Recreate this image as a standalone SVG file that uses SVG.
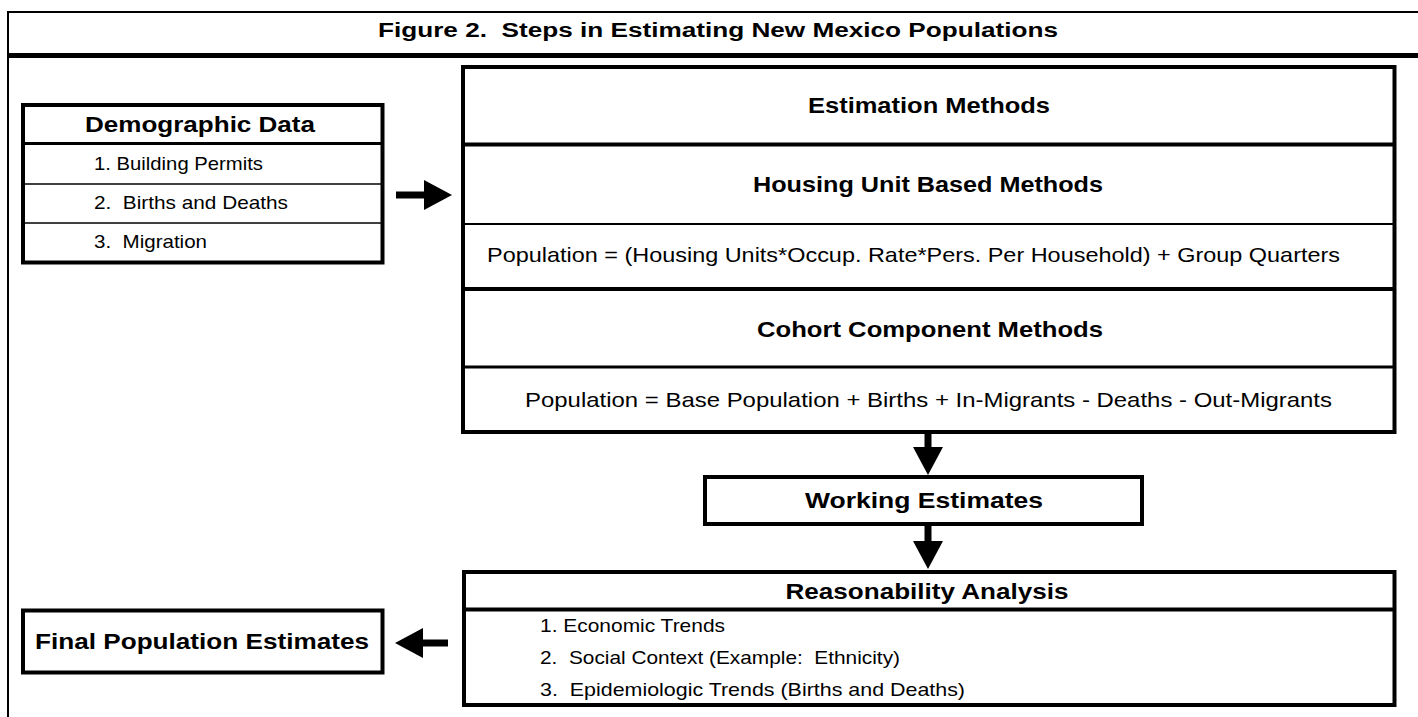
<svg xmlns="http://www.w3.org/2000/svg" width="1418" height="717" viewBox="0 0 1418 717">
<style>
text{font-family:"Liberation Sans",Arial,sans-serif;fill:#000;white-space:pre}
.b{font-weight:bold;font-size:22px}
.t{font-weight:bold;font-size:20px}
.r{font-size:21px}
.s{font-size:19px}
.m{text-anchor:middle}
.box{fill:#fff;stroke:#000;stroke-width:4}
.d4{stroke:#000;stroke-width:4}
.d3{stroke:#000;stroke-width:3}
.d2{stroke:#000;stroke-width:2}
.d1{stroke:#000;stroke-width:1.5}
.sh{stroke:#000;stroke-width:7;fill:none}
</style>
<defs>
<marker id="ah" viewBox="0 0 28 30" markerWidth="28" markerHeight="30" refX="0" refY="15" orient="auto" markerUnits="userSpaceOnUse">
<path d="M0,0 L28,15 L0,30 Z" fill="#000"/>
</marker>
</defs>
<rect width="1418" height="717" fill="#fff"/>
<g id="frame">
<line x1="8" y1="12" x2="1418" y2="12" class="d2"/>
<line x1="8" y1="11" x2="8" y2="717" class="d2"/>
<line x1="7" y1="55.5" x2="1418" y2="55.5" stroke="#000" stroke-width="5"/>
<text x="378" y="37" class="t" textLength="680" lengthAdjust="spacingAndGlyphs">Figure 2.  Steps in Estimating New Mexico Populations</text>
</g>
<g id="demographic-data">
<rect x="23" y="105" width="359.5" height="157.5" class="box"/>
<line x1="23" y1="143.5" x2="382.5" y2="143.5" class="d3"/>
<line x1="23" y1="184" x2="382.5" y2="184" class="d1"/>
<line x1="23" y1="223" x2="382.5" y2="223" class="d1"/>
<text x="200" y="132" class="b m" textLength="230" lengthAdjust="spacingAndGlyphs">Demographic Data</text>
<text x="94" y="170" class="s" textLength="169" lengthAdjust="spacingAndGlyphs">1. Building Permits</text>
<text x="94" y="209" class="s" textLength="194" lengthAdjust="spacingAndGlyphs">2.  Births and Deaths</text>
<text x="94" y="248" class="s" textLength="113" lengthAdjust="spacingAndGlyphs">3.  Migration</text>
</g>
<g id="estimation-methods">
<rect x="463" y="67" width="931.5" height="365" class="box"/>
<line x1="463" y1="144.5" x2="1394.5" y2="144.5" class="d4"/>
<line x1="463" y1="224" x2="1394.5" y2="224" class="d2"/>
<line x1="463" y1="289" x2="1394.5" y2="289" class="d4"/>
<line x1="463" y1="367" x2="1394.5" y2="367" class="d3"/>
<text x="929" y="113" class="b m" textLength="242" lengthAdjust="spacingAndGlyphs">Estimation Methods</text>
<text x="928" y="192" class="b m" textLength="350" lengthAdjust="spacingAndGlyphs">Housing Unit Based Methods</text>
<text x="487" y="262" class="r" textLength="853" lengthAdjust="spacingAndGlyphs">Population = (Housing Units*Occup. Rate*Pers. Per Household) + Group Quarters</text>
<text x="930" y="337" class="b m" textLength="346" lengthAdjust="spacingAndGlyphs">Cohort Component Methods</text>
<text x="928.5" y="407" class="r m" textLength="807" lengthAdjust="spacingAndGlyphs">Population = Base Population + Births + In-Migrants - Deaths - Out-Migrants</text>
</g>
<g id="working-estimates">
<rect x="705" y="477" width="437" height="47" class="box"/>
<text x="924" y="508" class="b m" textLength="238" lengthAdjust="spacingAndGlyphs">Working Estimates</text>
</g>
<g id="reasonability-analysis">
<rect x="464" y="572" width="930.5" height="133" class="box"/>
<line x1="464" y1="609.5" x2="1394.5" y2="609.5" class="d4"/>
<text x="927" y="599" class="b m" textLength="283" lengthAdjust="spacingAndGlyphs">Reasonability Analysis</text>
<text x="540" y="632" class="s" textLength="185" lengthAdjust="spacingAndGlyphs">1. Economic Trends</text>
<text x="540" y="664" class="s" textLength="360" lengthAdjust="spacingAndGlyphs">2.  Social Context (Example:  Ethnicity)</text>
<text x="540" y="696" class="s" textLength="425" lengthAdjust="spacingAndGlyphs">3.  Epidemiologic Trends (Births and Deaths)</text>
</g>
<g id="final-population-estimates">
<rect x="23" y="610.5" width="359.5" height="62" class="box"/>
<text x="202" y="649" class="b m" textLength="334" lengthAdjust="spacingAndGlyphs">Final Population Estimates</text>
</g>
<g id="connectors">
<line x1="396" y1="195" x2="424" y2="195" class="sh" marker-end="url(#ah)"/>
<line x1="928" y1="434" x2="928" y2="447" class="sh" marker-end="url(#ah)"/>
<line x1="928" y1="526" x2="928" y2="541" class="sh" marker-end="url(#ah)"/>
<line x1="448" y1="643" x2="423" y2="643" class="sh" marker-end="url(#ah)"/>
</g>
</svg>
